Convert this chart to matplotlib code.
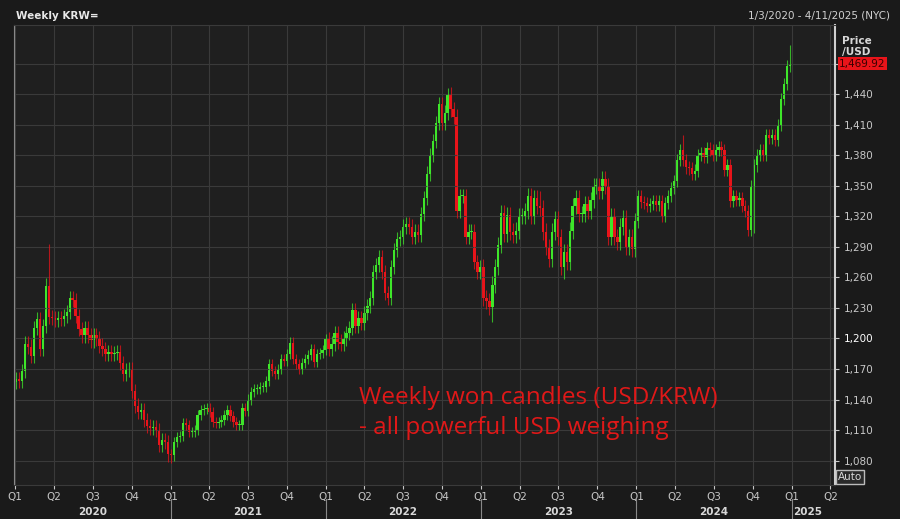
import numpy as np
import pandas as pd
import matplotlib
matplotlib.use("Agg")
import matplotlib.pyplot as plt
import matplotlib.dates as mdates
from matplotlib.patches import Rectangle
from matplotlib.transforms import blended_transform_factory

# weekly closes, one per Friday starting 2020-01-03
closes_2020 = [1160, 1158, 1168, 1195, 1192, 1183, 1210, 1219, 1190, 1212, 1252, 1221,
               1220, 1218, 1220, 1219, 1222, 1226, 1240, 1238, 1222, 1209, 1203, 1210, 1203,
               1198, 1203, 1200, 1193, 1190, 1185, 1187, 1185, 1186, 1187, 1176, 1165, 1169,
               1170, 1148, 1134, 1128, 1130, 1120, 1114, 1112, 1113, 1110, 1095, 1100, 1098, 1086]
closes_2021 = [1085, 1098, 1103, 1104, 1117, 1115, 1108, 1108, 1110, 1125, 1130, 1131, 1132,
               1128, 1118, 1117, 1118, 1120, 1125, 1130, 1124, 1118, 1115, 1115, 1132, 1129,
               1140, 1147, 1150, 1150, 1152, 1152, 1158, 1175, 1168, 1165, 1170, 1180, 1178,
               1185, 1196, 1180, 1175, 1170, 1176, 1180, 1184, 1190, 1177, 1185, 1186, 1189]
closes_2022 = [1199, 1190, 1195, 1205, 1197, 1195, 1200, 1205, 1210, 1228, 1212, 1220,
               1215, 1225, 1232, 1240, 1265, 1272, 1280, 1265, 1245, 1240, 1270, 1287, 1298,
               1300, 1310, 1312, 1310, 1300, 1305, 1302, 1322, 1338, 1362, 1380, 1394, 1412, 1430,
               1412, 1422, 1440, 1425, 1418, 1325, 1340, 1340, 1300, 1305, 1305, 1275, 1265]
closes_2023 = [1270, 1240, 1237, 1231, 1253, 1270, 1292, 1323, 1303, 1321, 1305, 1302, 1306,
               1320, 1320, 1325, 1340, 1320, 1338, 1330, 1328, 1305, 1290, 1278, 1305, 1317,
               1300, 1270, 1285, 1275, 1306, 1330, 1338, 1322, 1322, 1332, 1325, 1336, 1350,
               1350, 1345, 1357, 1350, 1300, 1320, 1300, 1295, 1310, 1318, 1290, 1300, 1288]
closes_2024 = [1315, 1340, 1334, 1333, 1330, 1332, 1335, 1331, 1335, 1320, 1333, 1340, 1348,
               1355, 1375, 1385, 1375, 1368, 1367, 1362, 1365, 1380, 1382, 1378, 1387, 1385,
               1380, 1385, 1388, 1385, 1366, 1370, 1335, 1340, 1336, 1338, 1330, 1325, 1307,
               1350, 1370, 1380, 1385, 1380, 1400, 1397, 1400, 1395, 1410, 1435, 1450, 1468]
closes_2025 = [1469.92]
first_open = 1157

# typical wick length per year, plus the visible spikes
wick_by_year = {2020: 7, 2021: 5, 2022: 7, 2023: 8, 2024: 6, 2025: 3}
spike_highs = {"2020-03-20": 1293, "2022-10-14": 1446, "2024-12-27": 1488, "2023-05-19": 1345,
               "2024-04-19": 1400}
spike_lows = {"2021-01-01": 1078, "2023-01-27": 1216, "2023-07-14": 1258, "2024-10-04": 1304}

yticks = [1080, 1110, 1140, 1170, 1200, 1230, 1260, 1290, 1320, 1350, 1380, 1410, 1440, 1470]
quarters = pd.date_range("2020-01-01", "2025-04-01", freq="QS")
years = [2020, 2021, 2022, 2023, 2024, 2025]

closes = closes_2020 + closes_2021 + closes_2022 + closes_2023 + closes_2024 + closes_2025
dates = pd.date_range("2020-01-03", periods=len(closes), freq="W-FRI")
opens = [first_open] + closes[:-1]
highs, lows = [], []
for d, o, c in zip(dates, opens, closes):
    w = wick_by_year[d.year]
    key = d.strftime("%Y-%m-%d")
    highs.append(spike_highs.get(key, max(o, c) + w))
    lows.append(spike_lows.get(key, min(o, c) - w))

green = "#3ee62a"
red = "#e8141a"
bg = "#1f1f1f"

fig = plt.figure(figsize=(9, 5.19), dpi=100)
fig.patch.set_facecolor("#1a1a1a")
ax = fig.add_axes([14 / 900, 34 / 519, 821 / 900, 460 / 519])
ax.set_facecolor(bg)

xs = mdates.date2num(dates)
width = 5.6
for x, o, h, l, c in zip(xs, opens, highs, lows, closes):
    col = green if c >= o else red
    ax.vlines(x, l, h, color=col, linewidth=0.8, alpha=0.75)
    ax.add_patch(Rectangle((x - width / 2, min(o, c)), width, max(abs(c - o), 1.0),
                           facecolor=col, edgecolor="none"))

ax.set_xlim(mdates.date2num(pd.Timestamp("2019-12-29")), mdates.date2num(pd.Timestamp("2025-04-12")))
ax.set_ylim(1056, 1508)

ax.yaxis.tick_right()
ax.set_yticks(yticks)
ax.set_yticklabels(["" if v == 1470 else "{:,}".format(v) for v in yticks])
ax.set_xticks(mdates.date2num(quarters))
ax.set_xticklabels(["Q%d" % ((q.month - 1) // 3 + 1) for q in quarters])
ax.tick_params(axis="both", colors="#c8c8c8", labelsize=7.5, length=3)
ax.tick_params(axis="x", pad=2)
for lab in ax.get_yticklabels():
    if lab.get_text() == "1,200":
        lab.set_color("white")
ax.grid(True, color="#3a3a3a", linewidth=0.8)
for s in ["top", "bottom"]:
    ax.spines[s].set_color("#3a3a3a")
ax.spines["left"].set_color("#888888")
ax.spines["right"].set_color("#cfcfcf")
ax.spines["right"].set_linewidth(1.5)

trans = blended_transform_factory(ax.transData, ax.transAxes)
for y in years:
    if y < 2025:
        ax.text(mdates.date2num(pd.Timestamp("%d-07-01" % y)), -0.058, str(y), transform=trans,
                ha="center", va="center", color="#d8d8d8", fontsize=7.5, fontweight="bold")
        ax.plot([mdates.date2num(pd.Timestamp("%d-01-01" % (y + 1)))] * 2, [-0.03, -0.075],
                transform=trans, color="#888888", linewidth=0.8, clip_on=False)
    else:
        ax.text(mdates.date2num(pd.Timestamp("2025-01-01")) + 3, -0.058, "2025", transform=trans,
                ha="left", va="center", color="#d8d8d8", fontsize=7.5, fontweight="bold")

# last price tag
ax.text(1.005, (1469.92 - 1056) / (1508 - 1056), "1,469.92", transform=ax.transAxes,
        ha="left", va="center", color="#3a0000", fontsize=7.5,
        bbox=dict(boxstyle="square,pad=0.15", facecolor="#e8141a", edgecolor="none"))
ax.text(1.008, 0.975, "Price\n/USD", transform=ax.transAxes, ha="left", va="top",
        color="#d8d8d8", fontsize=7.5, fontweight="bold", linespacing=1.1)
fig.text(838 / 900, 1 - 477 / 519, "Auto", ha="left", va="center", color="#d8d8d8", fontsize=7.5,
         bbox=dict(boxstyle="square,pad=0.15", facecolor="#2a2a2a", edgecolor="#bbbbbb"))

fig.text(16 / 900, 1 - 16 / 519, "Weekly KRW=", color="#e8e8e8", fontsize=7.5,
         fontweight="bold", va="center")
fig.text(890 / 900, 1 - 16 / 519, "1/3/2020 - 4/11/2025 (NYC)", color="#d0d0d0", fontsize=7.5,
         ha="right", va="center")

ax.text(345 / 821, 1 - (413 - 25) / 460, "Weekly won candles (USD/KRW)\n- all powerful USD weighing",
        transform=ax.transAxes, color="#e01818", fontsize=17.5, family="Open Sans",
        va="center", ha="left", linespacing=1.3)

fig.savefig("out.png", dpi=100, facecolor=fig.get_facecolor())
